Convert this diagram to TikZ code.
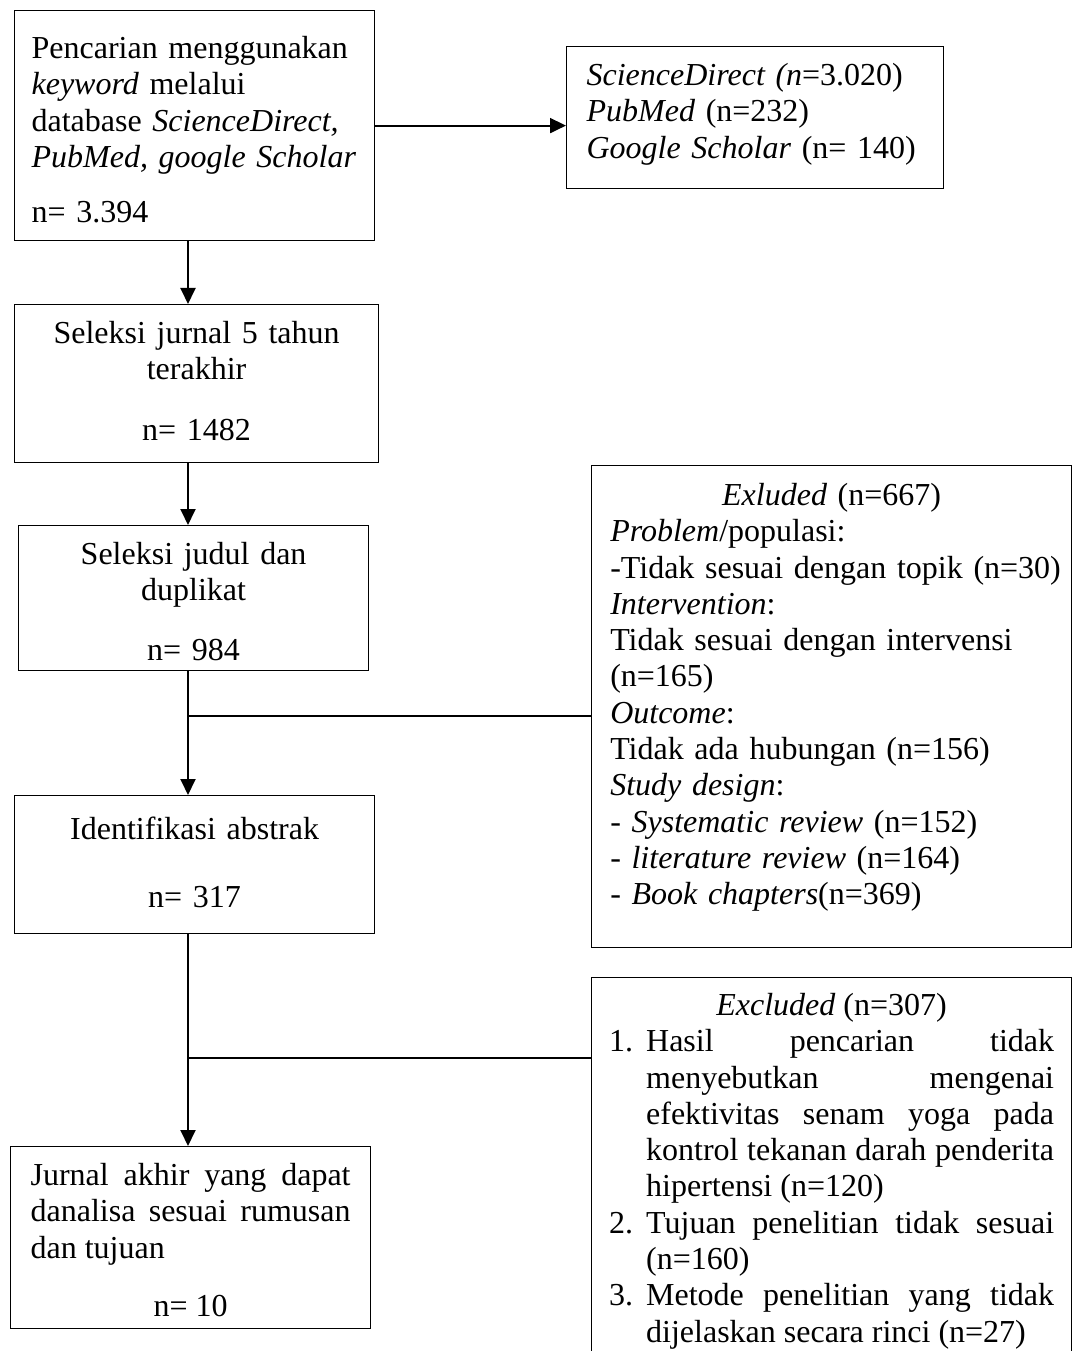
\documentclass[tikz,border=0pt]{standalone}
\usepackage{fontspec}
\setmainfont{Liberation Serif}
\usetikzlibrary{arrows.meta}
\tolerance=10000
\hbadness=10000
\hfuzz=10pt
\newcommand{\exitem}[1]{\par\hangindent=13.9pt\hangafter=1\noindent\makebox[13.9pt][l]{#1}}
\tikzset{
	box/.style={draw, line width=0.45pt, anchor=north west, inner sep=0pt,
		font=\fontsize{12pt}{13.6pt}\selectfont},
	flow/.style={line width=0.8pt, -{Triangle[length=6pt,width=5.6pt]}},
	link/.style={line width=0.8pt}
}
\begin{document}
\begin{tikzpicture}[x=0.375pt,y=-0.375pt]
\useasboundingbox (0,0) rectangle (1072,1351);
\node[box, minimum width=135pt, text width=122.25pt, align=left,
	text height=18pt, text depth=68.25pt] (search) at (14,10)
	{Pencarian menggunakan\\ \textit{keyword} melalui\\ database \textit{ScienceDirect,}\\
	\textit{PubMed, google Scholar}\\[7pt] n= 3.394};
\node[box, minimum width=141.375pt, text width=126.375pt, align=left,
	text height=14.625pt, text depth=38.625pt] (hits) at (566,46)
	{\textit{ScienceDirect (n}=3.020)\\ \textit{PubMed} (n=232)\\ \textit{Google Scholar} (n= 140)};
\node[box, minimum width=136.5pt, text width=120pt, align=center,
	text height=14.625pt, text depth=44.625pt] (recent) at (14,304)
	{Seleksi jurnal 5 tahun\\ terakhir\\[9pt] n= 1482};
\node[box, minimum width=131.25pt, text width=115pt, align=center,
	text height=14.625pt, text depth=39.75pt] (titles) at (18,525)
	{Seleksi judul dan\\ duplikat\\[8.6pt] n= 984};
\node[box, minimum width=180pt, text width=166pt, align=left,
	text height=15pt, text depth=165.75pt] (screen1) at (591,465)
	{{\centering\textit{Exluded} (n=667)\par}
	\textit{Problem}/populasi:\\
	\mbox{-Tidak sesuai dengan topik (n=30)}\\
	\textit{Intervention}:\\
	Tidak sesuai dengan intervensi\\
	(n=165)\\
	\textit{Outcome}:\\
	Tidak ada hubungan (n=156)\\
	\textit{Study design}:\\
	- \textit{Systematic review} (n=152)\\
	- \textit{literature review} (n=164)\\
	- \textit{Book chapters}(n=369)};
\node[box, minimum width=135pt, text width=120pt, align=center,
	text height=16.5pt, text depth=35.25pt] (abstracts) at (14,795)
	{Identifikasi abstrak\\[11.7pt] n= 317};
\node[box, minimum width=180pt, text width=166.875pt, align=justify,
	text height=14.25pt, text depth=136.875pt] (screen2) at (591,977)
	{{\centering\textit{Excluded} (n=307)\par}
	\exitem{1.}Hasil pencarian tidak\linebreak menyebutkan mengenai\linebreak
	efektivitas senam yoga pada\linebreak kontrol tekanan darah penderita\linebreak
	hipertensi (n=120)
	\exitem{2.}Tujuan penelitian tidak sesuai\linebreak (n=160)
	\exitem{3.}Metode penelitian yang tidak\linebreak dijelaskan secara rinci (n=27)\par};
\node[box, minimum width=135pt, text width=120pt, align=justify,
	text height=14.625pt, text depth=53.625pt] (final) at (10,1146)
	{Jurnal akhir yang dapat\linebreak danalisa sesuai rumusan\linebreak dan tujuan\par
	\vspace{8.4pt}{\centering n= 10\par}};
\coordinate (spine) at (188,0);
\coordinate (cut1) at (188,716);
\coordinate (cut2) at (188,1058);
\draw[flow] (search.east) -- (search.east -| hits.west);
\draw[flow] (search.south -| spine) -- (recent.north -| spine);
\draw[flow] (recent.south -| spine) -- (titles.north -| spine);
\draw[flow] (titles.south -| spine) -- (abstracts.north -| spine);
\draw[flow] (abstracts.south -| spine) -- (final.north -| spine);
\draw[link] (screen1.west |- cut1) -- (cut1);
\draw[link] (screen2.west |- cut2) -- (cut2);
\end{tikzpicture}
\end{document}
